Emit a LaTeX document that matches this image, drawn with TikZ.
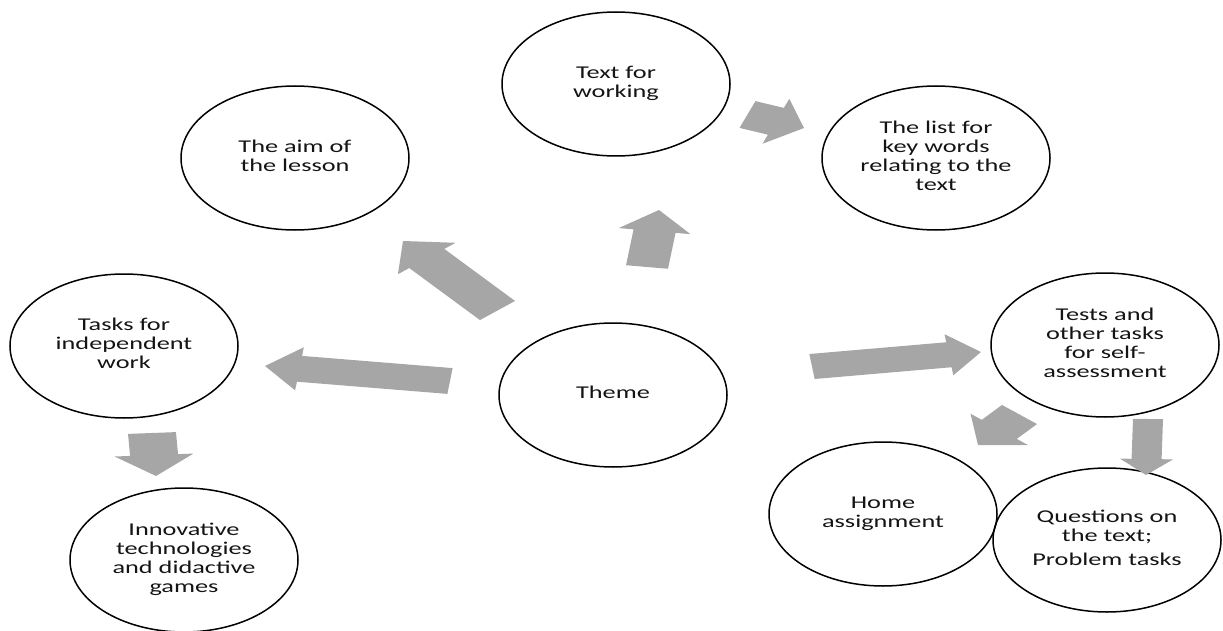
\documentclass[tikz,border=0pt]{standalone}
\usepackage{fontspec}
\setmainfont{Carlito}
\usepackage{graphicx}
\usetikzlibrary{shapes.geometric,calc}

\definecolor{arrowgray}{HTML}{A6A6A6}
\definecolor{inkc}{HTML}{141414}

% label text, widened like the rest of the chart
\newcommand\lbl[1]{\scalebox{1.46}[1]{\begin{tabular}{@{}c@{}}#1\end{tabular}}}

% horizontal stretch of the whole chart
\newcommand\stretchx{1.58}

% block arrow: #1 tail, #2 tip, #3 half shaft width, #4 half head width, #5 head length
\newcommand\blockarrow[5]{%
  \fill[blockarrowfill] let \p1=(#1), \p2=(#2),
      \n1={(\x2-\x1)/\stretchx}, \n2={\y2-\y1}, \n3={veclen(\n1,\n2)},
      \n4={\n1/\n3}, \n5={\n2/\n3} in
    ({\x1-\n5*#3*\stretchx},{\y1+\n4*#3})
    -- ({\x2-\n4*#5*\stretchx-\n5*#3*\stretchx},{\y2-\n5*#5+\n4*#3})
    -- ({\x2-\n4*#5*\stretchx-\n5*#4*\stretchx},{\y2-\n5*#5+\n4*#4})
    -- (\p2)
    -- ({\x2-\n4*#5*\stretchx+\n5*#4*\stretchx},{\y2-\n5*#5-\n4*#4})
    -- ({\x2-\n4*#5*\stretchx+\n5*#3*\stretchx},{\y2-\n5*#5-\n4*#3})
    -- ({\x1+\n5*#3*\stretchx},{\y1-\n4*#3})
    -- cycle;%
}

\begin{document}
\begin{tikzpicture}[x=1pt,y=-1pt,
  bubble/.style={ellipse, draw=black, line width=1.5pt, minimum width=228pt,
    minimum height=144pt, inner sep=0pt, text=inkc,
    font=\fontsize{18}{19}\selectfont},
  blockarrowfill/.style={fill=arrowgray}]
\useasboundingbox (0,0) rectangle (1223,631);

% topic bubbles
\node[bubble] (theme) at (613,395) {\lbl{Theme}};
\node[bubble] (aim)   at (295,158) {\lbl{The aim of\\the lesson}};
\node[bubble] (text)  at (616,84)  {\lbl{Text for\\working}};
\node[bubble] (list)  at (936,158) {\lbl{The list for\\key words\\relating to the\\text}};
\node[bubble] (tasks) at (124,346) {\lbl{Tasks for\\independent\\work}};
\node[bubble] (innov) at (184,560) {\lbl{Innovative\\technologies\\and didactive\\games}};
\node[bubble] (tests) at (1105,345) {\lbl{Tests and\\other tasks\\for self-\\assessment}};
\node[bubble] (home)  at (883,514) {\lbl{Home\\assignment}};
\node[bubble] (quest) at (1107,540) {\lbl{Questions on\\the text;\\[5.5pt]Problem tasks}};

% arrow ends
\coordinate (themeaim-s)   at (497.5,310.5);
\coordinate (themeaim-e)   at (403,241);
\coordinate (themetasks-s) at (450,381);
\coordinate (themetasks-e) at (265,366);
\coordinate (themetests-s) at (812,366.5);
\coordinate (themetests-e) at (981,352);
\coordinate (themetext-s)  at (647,267);
\coordinate (themetext-e)  at (659,210);
\coordinate (textlist-s)   at (747.5,114.5);
\coordinate (textlist-e)   at (804,128);
\coordinate (tasksinnov-s) at (152,433);
\coordinate (tasksinnov-e) at (156,476);
\coordinate (testsquest-s) at (1148,419);
\coordinate (testsquest-e) at (1146,475);
\coordinate (testshome-s)  at (1019.5,414.5);
\coordinate (testshome-e)  at (978,445);

% block arrows
\blockarrow{themeaim-s}{themeaim-e}{14.6}{24}{23}
\blockarrow{themetasks-s}{themetasks-e}{13}{21.7}{22}
\blockarrow{themetests-s}{themetests-e}{12.6}{20.7}{20.5}
\blockarrow{themetext-s}{themetext-e}{13.4}{22.9}{21.3}
\blockarrow{textlist-s}{textlist-e}{14.3}{24}{19}
\blockarrow{tasksinnov-s}{tasksinnov-e}{15.2}{25}{21}
\blockarrow{testsquest-s}{testsquest-e}{9.5}{16.8}{16}
\blockarrow{testshome-s}{testshome-e}{14.6}{24}{20.6}
\end{tikzpicture}
\end{document}
